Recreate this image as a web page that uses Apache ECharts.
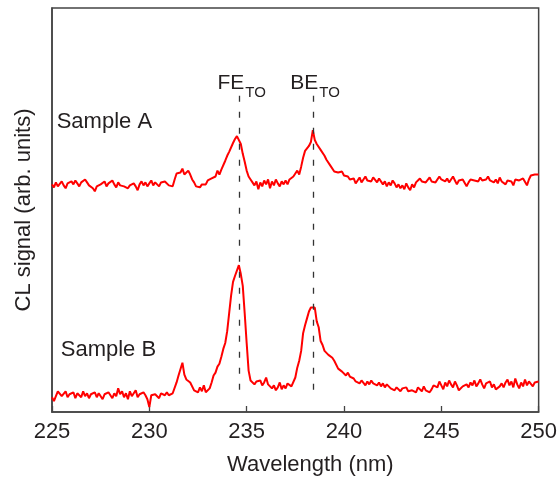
<!DOCTYPE html>
<html>
<head>
<meta charset="utf-8">
<script src="https://cdn.jsdelivr.net/npm/echarts@6/dist/echarts.min.js"></script>
<style>
  html, body { margin: 0; padding: 0; background: #fff; }
  #chart { width: 560px; height: 481px; }
</style>
</head>
<body>
<div id="chart"></div>
<script>
// spectra sampled every 0.1 nm from 225 nm
var lambdaStart = 225.0;
var lambdaStep = 0.1;

// CL signal (arb. units)
var sampleA = [
  2.31, 2.28, 2.33, 2.29, 2.31, 2.34, 2.30, 2.27, 2.32, 2.30,
  2.34, 2.31, 2.35, 2.32, 2.29, 2.33, 2.31, 2.36, 2.33, 2.30,
  2.32, 2.27, 2.24, 2.29, 2.28, 2.31, 2.30, 2.34, 2.29, 2.32,
  2.30, 2.35, 2.31, 2.28, 2.33, 2.30, 2.32, 2.29, 2.31, 2.27,
  2.30, 2.28, 2.32, 2.29, 2.25, 2.31, 2.34, 2.30, 2.33, 2.29,
  2.32, 2.35, 2.30, 2.33, 2.31, 2.29, 2.33, 2.31, 2.34, 2.32,
  2.30, 2.31, 2.29, 2.36, 2.42, 2.40, 2.43, 2.47, 2.41, 2.39,
  2.45, 2.41, 2.36, 2.33, 2.29, 2.31, 2.28, 2.31, 2.33, 2.31,
  2.35, 2.33, 2.37, 2.36, 2.39, 2.45, 2.41, 2.46, 2.48, 2.55,
  2.60, 2.64, 2.66, 2.73, 2.77, 2.80, 2.81, 2.72, 2.62, 2.54,
  2.45, 2.39, 2.36, 2.33, 2.30, 2.34, 2.26, 2.33, 2.29, 2.35,
  2.31, 2.36, 2.27, 2.34, 2.30, 2.36, 2.32, 2.29, 2.34, 2.31,
  2.35, 2.31, 2.36, 2.34, 2.39, 2.42, 2.45, 2.41, 2.49, 2.58,
  2.65, 2.67, 2.70, 2.74, 2.86, 2.76, 2.72, 2.73, 2.66, 2.65,
  2.60, 2.56, 2.58, 2.50, 2.49, 2.44, 2.46, 2.43, 2.41, 2.44,
  2.40, 2.38, 2.39, 2.36, 2.34, 2.37, 2.32, 2.35, 2.38, 2.33,
  2.36, 2.39, 2.35, 2.37, 2.34, 2.38, 2.36, 2.33, 2.37, 2.35,
  2.31, 2.34, 2.29, 2.33, 2.30, 2.35, 2.32, 2.28, 2.31, 2.27,
  2.30, 2.26, 2.32, 2.28, 2.25, 2.31, 2.28, 2.33, 2.35, 2.37,
  2.34, 2.36, 2.33, 2.35, 2.38, 2.34, 2.36, 2.33, 2.35, 2.39,
  2.36, 2.38, 2.34, 2.37, 2.33, 2.36, 2.39, 2.35, 2.31, 2.35,
  2.33, 2.36, 2.34, 2.29, 2.33, 2.36, 2.38, 2.35, 2.37, 2.34,
  2.38, 2.35, 2.33, 2.36, 2.39, 2.35, 2.37, 2.33, 2.36, 2.32,
  2.38, 2.34, 2.36, 2.31, 2.35, 2.37, 2.34, 2.30, 2.36, 2.38,
  2.35, 2.33, 2.37, 2.35, 2.30, 2.36, 2.40, 2.39, 2.41, 2.40,
  2.41
];
var sampleB = [
  0.15, 0.11, 0.16, 0.21, 0.19, 0.16, 0.17, 0.21, 0.15, 0.18,
  0.16, 0.20, 0.14, 0.19, 0.17, 0.15, 0.21, 0.16, 0.19, 0.14,
  0.18, 0.16, 0.20, 0.15, 0.19, 0.17, 0.13, 0.18, 0.16, 0.20,
  0.17, 0.14, 0.19, 0.16, 0.24, 0.18, 0.21, 0.15, 0.19, 0.13,
  0.21, 0.16, 0.19, 0.22, 0.15, 0.18, 0.16, 0.20, 0.17, 0.13,
  0.05, 0.17, 0.15, 0.18, 0.16, 0.14, 0.19, 0.21, 0.17, 0.20,
  0.17, 0.15, 0.19, 0.21, 0.30, 0.37, 0.38, 0.50, 0.38, 0.33,
  0.35, 0.30, 0.28, 0.22, 0.24, 0.20, 0.25, 0.21, 0.27, 0.20,
  0.22, 0.24, 0.30, 0.37, 0.40, 0.46, 0.49, 0.56, 0.64, 0.70,
  0.82, 1.00, 1.18, 1.32, 1.38, 1.40, 1.49, 1.40, 1.28, 1.00,
  0.70, 0.42, 0.32, 0.30, 0.28, 0.31, 0.29, 0.32, 0.27, 0.30,
  0.35, 0.28, 0.30, 0.24, 0.27, 0.22, 0.25, 0.30, 0.23, 0.27,
  0.24, 0.29, 0.27, 0.26, 0.26, 0.35, 0.45, 0.52, 0.62, 0.80,
  0.88, 0.95, 1.02, 1.06, 1.06, 1.06, 0.92, 0.86, 0.72, 0.68,
  0.62, 0.60, 0.58, 0.57, 0.55, 0.52, 0.50, 0.44, 0.42, 0.41,
  0.40, 0.37, 0.40, 0.36, 0.38, 0.34, 0.31, 0.33, 0.29, 0.32,
  0.30, 0.27, 0.31, 0.28, 0.32, 0.29, 0.31, 0.27, 0.30, 0.26,
  0.29, 0.25, 0.28, 0.30, 0.24, 0.26, 0.22, 0.25, 0.23, 0.21,
  0.24, 0.22, 0.25, 0.21, 0.23, 0.22, 0.24, 0.20, 0.25, 0.23,
  0.21, 0.26, 0.22, 0.24, 0.20, 0.23, 0.27, 0.29, 0.25, 0.31,
  0.27, 0.23, 0.30, 0.26, 0.32, 0.28, 0.25, 0.31, 0.27, 0.22,
  0.20, 0.26, 0.24, 0.28, 0.25, 0.30, 0.27, 0.32, 0.26, 0.29,
  0.33, 0.28, 0.24, 0.29, 0.27, 0.31, 0.25, 0.28, 0.23, 0.21,
  0.26, 0.29, 0.25, 0.30, 0.33, 0.27, 0.31, 0.25, 0.34, 0.28,
  0.24, 0.30, 0.26, 0.33, 0.27, 0.31, 0.29, 0.26, 0.30, 0.32,
  0.31
];

var xTicks = [225, 230, 235, 240, 245, 250];
var peakNames = ['FE', 'BE'];
var peakSub = 'TO';
var peakLambda = [234.6, 238.4];
var dashRange = [3.21, 0.21];          // top, bottom of the dashed markers
var sampleNames = ['Sample A', 'Sample B'];
var sampleLabelAt = [[225.24, 2.94], [225.45, 0.63]];

var FONT = '"Liberation Sans", Arial, Helvetica, sans-serif';
var INK = '#231f20';

function pairs(vals) {
  var out = [];
  for (var i = 0; i < vals.length; i++) {
    out.push([+(lambdaStart + i * lambdaStep).toFixed(2), vals[i]]);
  }
  return out;
}

var chart = echarts.init(document.getElementById('chart'), null, { renderer: 'canvas' });

chart.setOption({
  animation: false,
  backgroundColor: '#fff',
  grid: {
    left: 52, right: 20, top: 8, bottom: 63,
    show: true, borderColor: '#444', borderWidth: 1.5, backgroundColor: 'transparent'
  },
  xAxis: {
    type: 'value',
    min: xTicks[0], max: xTicks[xTicks.length - 1], interval: 5,
    name: 'Wavelength (nm)',
    nameLocation: 'middle',
    nameGap: 42,
    nameTextStyle: { fontFamily: FONT, fontSize: 22, color: INK, padding: [0, 0, 0, 30] },
    axisLine: { show: true, lineStyle: { color: '#444', width: 1.5 } },
    axisTick: { show: true, inside: true, length: 6, lineStyle: { color: '#444', width: 1.3 } },
    axisLabel: { fontFamily: FONT, fontSize: 22, color: INK, margin: 9 },
    splitLine: { show: false }
  },
  yAxis: {
    type: 'value',
    min: 0, max: 4.1,
    name: 'CL signal (arb. units)',
    nameLocation: 'middle',
    nameGap: 17,
    nameTextStyle: { fontFamily: FONT, fontSize: 22, color: INK },
    axisLine: { show: true, lineStyle: { color: '#444', width: 1.5 } },
    axisTick: { show: false },
    axisLabel: { show: false },
    splitLine: { show: false }
  },
  series: [
    {
      name: sampleNames[0],
      type: 'line',
      data: pairs(sampleA),
      showSymbol: false,
      symbol: 'none',
      lineStyle: { color: '#ff0000', width: 2 },
      markLine: {
        silent: true,
        symbol: 'none',
        label: { show: false },
        lineStyle: { color: '#333', width: 1.3, type: [6, 10] },
        data: peakLambda.map(function (l) {
          return [{ coord: [l, dashRange[0]] }, { coord: [l, dashRange[1]] }];
        })
      }
    },
    {
      name: sampleNames[1],
      type: 'line',
      data: pairs(sampleB),
      showSymbol: false,
      symbol: 'none',
      lineStyle: { color: '#ff0000', width: 2 }
    }
  ]
});

// text annotations placed through the axes
var gfx = [];
peakLambda.forEach(function (l, i) {
  var p = chart.convertToPixel({ gridIndex: 0 }, [l, dashRange[0]]);
  gfx.push({
    type: 'text', x: p[0] + 5.5, y: p[1] - 12.8, silent: true,
    style: { text: peakNames[i], font: '21px ' + FONT, fill: INK, align: 'right', verticalAlign: 'middle' }
  });
  gfx.push({
    type: 'text', x: p[0] + 6.5, y: p[1] - 3.2, silent: true,
    style: { text: peakSub, font: '15px ' + FONT, fill: INK, align: 'left', verticalAlign: 'middle' }
  });
});
sampleLabelAt.forEach(function (c, i) {
  var p = chart.convertToPixel({ gridIndex: 0 }, c);
  gfx.push({
    type: 'text', x: p[0], y: p[1], silent: true,
    style: { text: sampleNames[i], font: '22px ' + FONT, fill: INK, align: 'left', verticalAlign: 'middle' }
  });
});
chart.setOption({ graphic: gfx });
</script>
</body>
</html>
